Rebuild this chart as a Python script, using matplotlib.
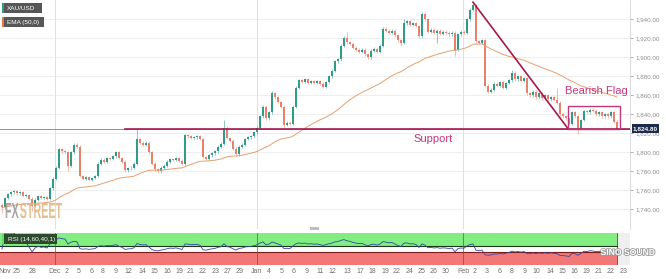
import numpy as np
import pandas as pd
import matplotlib
matplotlib.use("Agg")
import matplotlib.pyplot as plt
from matplotlib.patches import Rectangle, PathPatch
from matplotlib.textpath import TextPath
from matplotlib.font_manager import FontProperties
from matplotlib.transforms import Affine2D, IdentityTransform
import matplotlib.patheffects as pe

plt.rcParams['font.family'] = ['Liberation Sans', 'DejaVu Sans']

# ---------------- data ----------------
symbol = "XAU/USD"
ema_label = "EMA (50,0)"
rsi_label = "RSI (14,60,40,1)"
last_price = 1824.80
support_level = 1824.8

first_open = 1745.0
closes = [
    1742, 1752, 1756, 1758, 1759, 1757, 1758, 1754, 1755, 1751,
    1744, 1750, 1754, 1752, 1753, 1751, 1762, 1772, 1784, 1803,
    1801, 1800, 1786, 1800, 1808, 1806, 1775, 1772, 1774, 1771,
    1773, 1775, 1788, 1792, 1790, 1794, 1793, 1796, 1800, 1794,
    1790, 1781, 1783, 1784, 1788, 1814, 1810, 1808, 1810, 1800,
    1788, 1782, 1780, 1784, 1786, 1790, 1793, 1792, 1794, 1791,
    1788, 1818, 1817, 1815, 1816, 1817, 1814, 1795, 1793, 1797,
    1799, 1801, 1806, 1809, 1826, 1815, 1812, 1804, 1798, 1806,
    1808, 1814, 1816, 1817, 1821, 1826, 1838, 1848, 1836, 1842,
    1862, 1858, 1853, 1848, 1829, 1831, 1830, 1848, 1868, 1876,
    1874, 1877, 1873, 1875, 1873, 1875, 1872, 1869, 1874, 1880,
    1886, 1896, 1898, 1912, 1920, 1916, 1914, 1910, 1908, 1906,
    1908, 1903, 1900, 1907, 1909, 1906, 1912, 1930, 1928, 1926,
    1928, 1923, 1918, 1915, 1936, 1938, 1934, 1936, 1933, 1922,
    1946, 1940, 1927, 1929, 1926, 1928, 1925, 1927, 1926, 1924,
    1926, 1908, 1924, 1927, 1926, 1940, 1950, 1955, 1917, 1915,
    1918, 1870, 1864, 1866, 1872, 1870, 1874, 1868, 1873, 1876,
    1884, 1877, 1880, 1875, 1878, 1862, 1860, 1864, 1858, 1862,
    1857, 1860, 1856, 1858, 1855, 1852, 1840, 1838, 1836, 1830,
    1842, 1838, 1826, 1834, 1843, 1842, 1845, 1844, 1840, 1842,
    1838, 1840, 1838, 1842, 1832, 1824.8,
]
# notable wick extremes (bar index -> price)
wick_highs = {45: 1825, 74: 1834, 87: 1850, 90: 1865, 114: 1922, 115: 1927,
              127: 1932, 134: 1940, 140: 1948, 157: 1958, 170: 1887, 185: 1868}
wick_lows = {0: 1736, 10: 1738, 22: 1780, 94: 1827, 122: 1898, 133: 1912,
             139: 1920, 145: 1915, 151: 1901, 192: 1819}
typical_wick = 1.5

tick_labels = ["Nov", "25", "28", "Dec", "2", "5", "6", "8", "9", "12", "14", "15",
               "16", "19", "21", "22", "23", "27", "29", "Jan", "4", "5", "6", "9",
               "11", "12", "13", "17", "18", "19", "22", "24", "25", "26", "30",
               "Feb", "2", "3", "6", "8", "9", "10", "14", "15", "16", "19", "21",
               "22", "23"]
tick_pos = [1.0, 5.0, 10.3, 17.7, 21.7, 25.7, 29.7, 33.7, 38.0, 42.3, 46.7, 50.7,
            55.0, 59.0, 63.0, 67.0, 71.3, 75.3, 79.3, 85.0, 89.0, 93.3, 97.3, 101.7,
            106.0, 110.0, 115.3, 119.3, 123.3, 127.7, 131.7, 136.0, 139.7, 144.0, 148.0,
            153.7, 157.7, 161.7, 166.0, 170.0, 174.3, 178.0, 182.7, 186.7, 190.7,
            194.7, 199.0, 203.0, 207.3]
month_starts = [17.7, 85.0, 153.7]

price_ticks = list(range(1740, 1941, 20))

# pattern annotations (bar index, price)
support_start = 41
pole_top = (157, 1958)
flag_start = 188.7
flag_end = 206.0
flag_top = 1848.5

# ---------------- derived series ----------------
n = len(closes)
idx = np.arange(n)
c = np.array(closes, dtype=float)
o = np.concatenate([[first_open], c[:-1]])
hi = np.maximum(o, c) + typical_wick
lo = np.minimum(o, c) - typical_wick
for k, v in wick_highs.items():
    hi[k] = v
for k, v in wick_lows.items():
    lo[k] = v

ema = pd.Series(c).ewm(span=50, adjust=False).mean().values
d = pd.Series(c).diff().fillna(0)
gain = d.clip(lower=0).ewm(alpha=1 / 14, adjust=False).mean()
loss = (-d.clip(upper=0)).ewm(alpha=1 / 14, adjust=False).mean()
rsi = (100 - 100 / (1 + gain / loss)).fillna(50).values

# ---------------- figure ----------------
W, H = 666, 279
fig = plt.figure(figsize=(W / 100, H / 100), dpi=100)
fig.patch.set_facecolor("white")

ax = fig.add_axes([0, 1 - 229 / H, 630 / W, 229 / H])
axr = fig.add_axes([0, 1 - 265 / H, 630 / W, 32 / H])

xmin, xmax = -0.667, 209.33
ax.set_xlim(xmin, xmax)
ax.set_ylim(1719.3, 1960.3)

# grid
for p in price_ticks:
    ax.axhline(p, color="#ebebeb", lw=0.6, zorder=0)
for m in month_starts:
    ax.axvline(m, color="#e0e0e0", lw=0.7, zorder=0)
    axr.axvline(m, color="#5a5a5a", lw=0.5, zorder=3)

# candles
up_col, dn_col = "#2f9c88", "#e8806c"
cols = np.where(c >= o, up_col, dn_col)
ax.vlines(idx, lo, hi, colors=cols, lw=0.5, alpha=0.75, zorder=2)
body = np.where(np.abs(c - o) < 0.8, 0.8, c - o)
ax.bar(idx, body, bottom=o, width=0.62, color=cols, edgecolor="none", zorder=3)

# EMA
ax.plot(idx, ema, color="#e6a06e", lw=0.7, zorder=4)

# last price line and support
ax.axhline(last_price, color="#7083a3", lw=0.6, zorder=4)
pat_col = "#a8184f"
ax.plot([support_start, xmax], [support_level, support_level], color=pat_col, lw=1.2, zorder=5)
ax.plot([pole_top[0], flag_start], [pole_top[1], support_level], color=pat_col, lw=1.2, zorder=5)
ax.add_patch(Rectangle((flag_start, support_level), flag_end - flag_start, flag_top - support_level,
                       fill=False, edgecolor="#c2387a", lw=1.0, zorder=5))
ax.text(143.7, 1814, "Support", color="#c2387a", fontsize=8, ha="center", va="center", zorder=6)
ax.text(198.0, 1864.5, "Bearish Flag", color="#c2387a", fontsize=8, ha="center", va="center", zorder=6)

# axes styling
ax.yaxis.tick_right()
ax.set_yticks(price_ticks)
ax.set_yticklabels([f"{p:,.2f}" for p in price_ticks])
ax.tick_params(axis="y", labelsize=4.5, colors="#8c8c8c", length=2.2, width=0.5, pad=1.8)
ax.set_xticks([])
for s in ["top", "left", "bottom"]:
    ax.spines[s].set_visible(False)
ax.spines["right"].set_color("#d6d6d6")
ax.spines["right"].set_linewidth(0.6)

# ---------------- RSI panel ----------------
last_x = idx[-1]
axr.set_xlim(xmin, xmax)
axr.set_ylim(0, 100)
axr.fill_between([xmin, last_x], 60, 100, color="#82ee82", lw=0, zorder=0)
axr.fill_between([xmin, last_x], 0, 40, color="#f27878", lw=0, zorder=0)
axr.axvspan(last_x, xmax, color="#efefef", lw=0, zorder=0)
axr.plot([xmin, last_x], [60, 60], color="#1d361d", lw=0.8, zorder=2)
axr.plot([xmin, last_x], [40, 40], color="#7a1c1c", lw=0.8, zorder=2)
axr.axvline(last_x, color="#2a2a2a", lw=0.5, zorder=2)
axr.plot(idx, rsi, color="#3347a0", lw=0.6, zorder=4)
axr.set_yticks([])
axr.set_xticks(tick_pos)
axr.set_xticklabels(tick_labels)
axr.tick_params(axis="x", labelsize=5, colors="#6e6e6e", length=0, pad=2.5)
for s in axr.spines.values():
    s.set_visible(False)

# ---------------- overlays in pixel space ----------------
def px_rect(x0, y0, x1, y1, color, z=10):
    fig.add_artist(Rectangle((x0 / W, 1 - y1 / H), (x1 - x0) / W, (y1 - y0) / H,
                             transform=fig.transFigure, color=color, lw=0, zorder=z))

def px_text(x, y, s, **kw):
    fig.text(x / W, 1 - y / H, s, zorder=11, **kw)

# legend chips
px_rect(2, 3, 42, 13, "#575757")
px_rect(2, 3, 3.5, 13, "#2f9c88", z=11)
px_text(7, 8.2, symbol, color="white", fontsize=4.6, va="center", ha="left")
px_rect(2, 17, 44, 27, "#575757")
px_rect(2, 17, 3.5, 27, "#e07b39", z=11)
px_text(7, 22.2, ema_label, color="white", fontsize=4.6, va="center", ha="left")
px_rect(2, 234, 57, 244, "#2c4a2c")
px_rect(2, 234, 3.5, 244, "#66dd66", z=11)
px_text(8, 239.2, rsi_label, color="white", fontsize=4.6, va="center", ha="left")

# last-price tag
px_rect(632, 124, 659, 133, "#1c2b4a")
px_text(645.5, 128.7, f"{last_price:,.2f}", color="white", fontsize=4.6, fontweight="bold",
        va="center", ha="center")

# pane splitter handle
px_rect(310, 227, 319, 230, "#bdbdbd")

# FXSTREET mark
fp = FontProperties(family="Liberation Sans", weight="bold")
p_fx = TextPath((0, 0), "FX", size=20, prop=fp)
p_st = TextPath((0, 0), "STREET", size=20, prop=fp)
fx_w = p_fx.get_extents().x1
st_w = p_st.get_extents().x1
cap_h = p_fx.get_extents().y1
sx = (62 - 5) / (fx_w + 2 + st_w)
sy = 15 / cap_h
base_y = H - 218
fig.add_artist(PathPatch(p_fx, transform=Affine2D().scale(sx, sy).translate(5, base_y),
                         color="#8f8f8f", alpha=0.8, lw=0, zorder=12))
fig.add_artist(PathPatch(p_st, transform=Affine2D().scale(sx, sy).translate(5 + (fx_w + 2) * sx, base_y),
                         color="#e2b47e", alpha=0.85, lw=0, zorder=12))

# publisher mark
px_text(628, 252.5, "SINO SOUND", color="white", fontsize=6.2, fontweight="bold",
        ha="center", va="center",
        path_effects=[pe.withStroke(linewidth=1.2, foreground="#9a9a9a")])

fig.savefig("out.png", dpi=100)
